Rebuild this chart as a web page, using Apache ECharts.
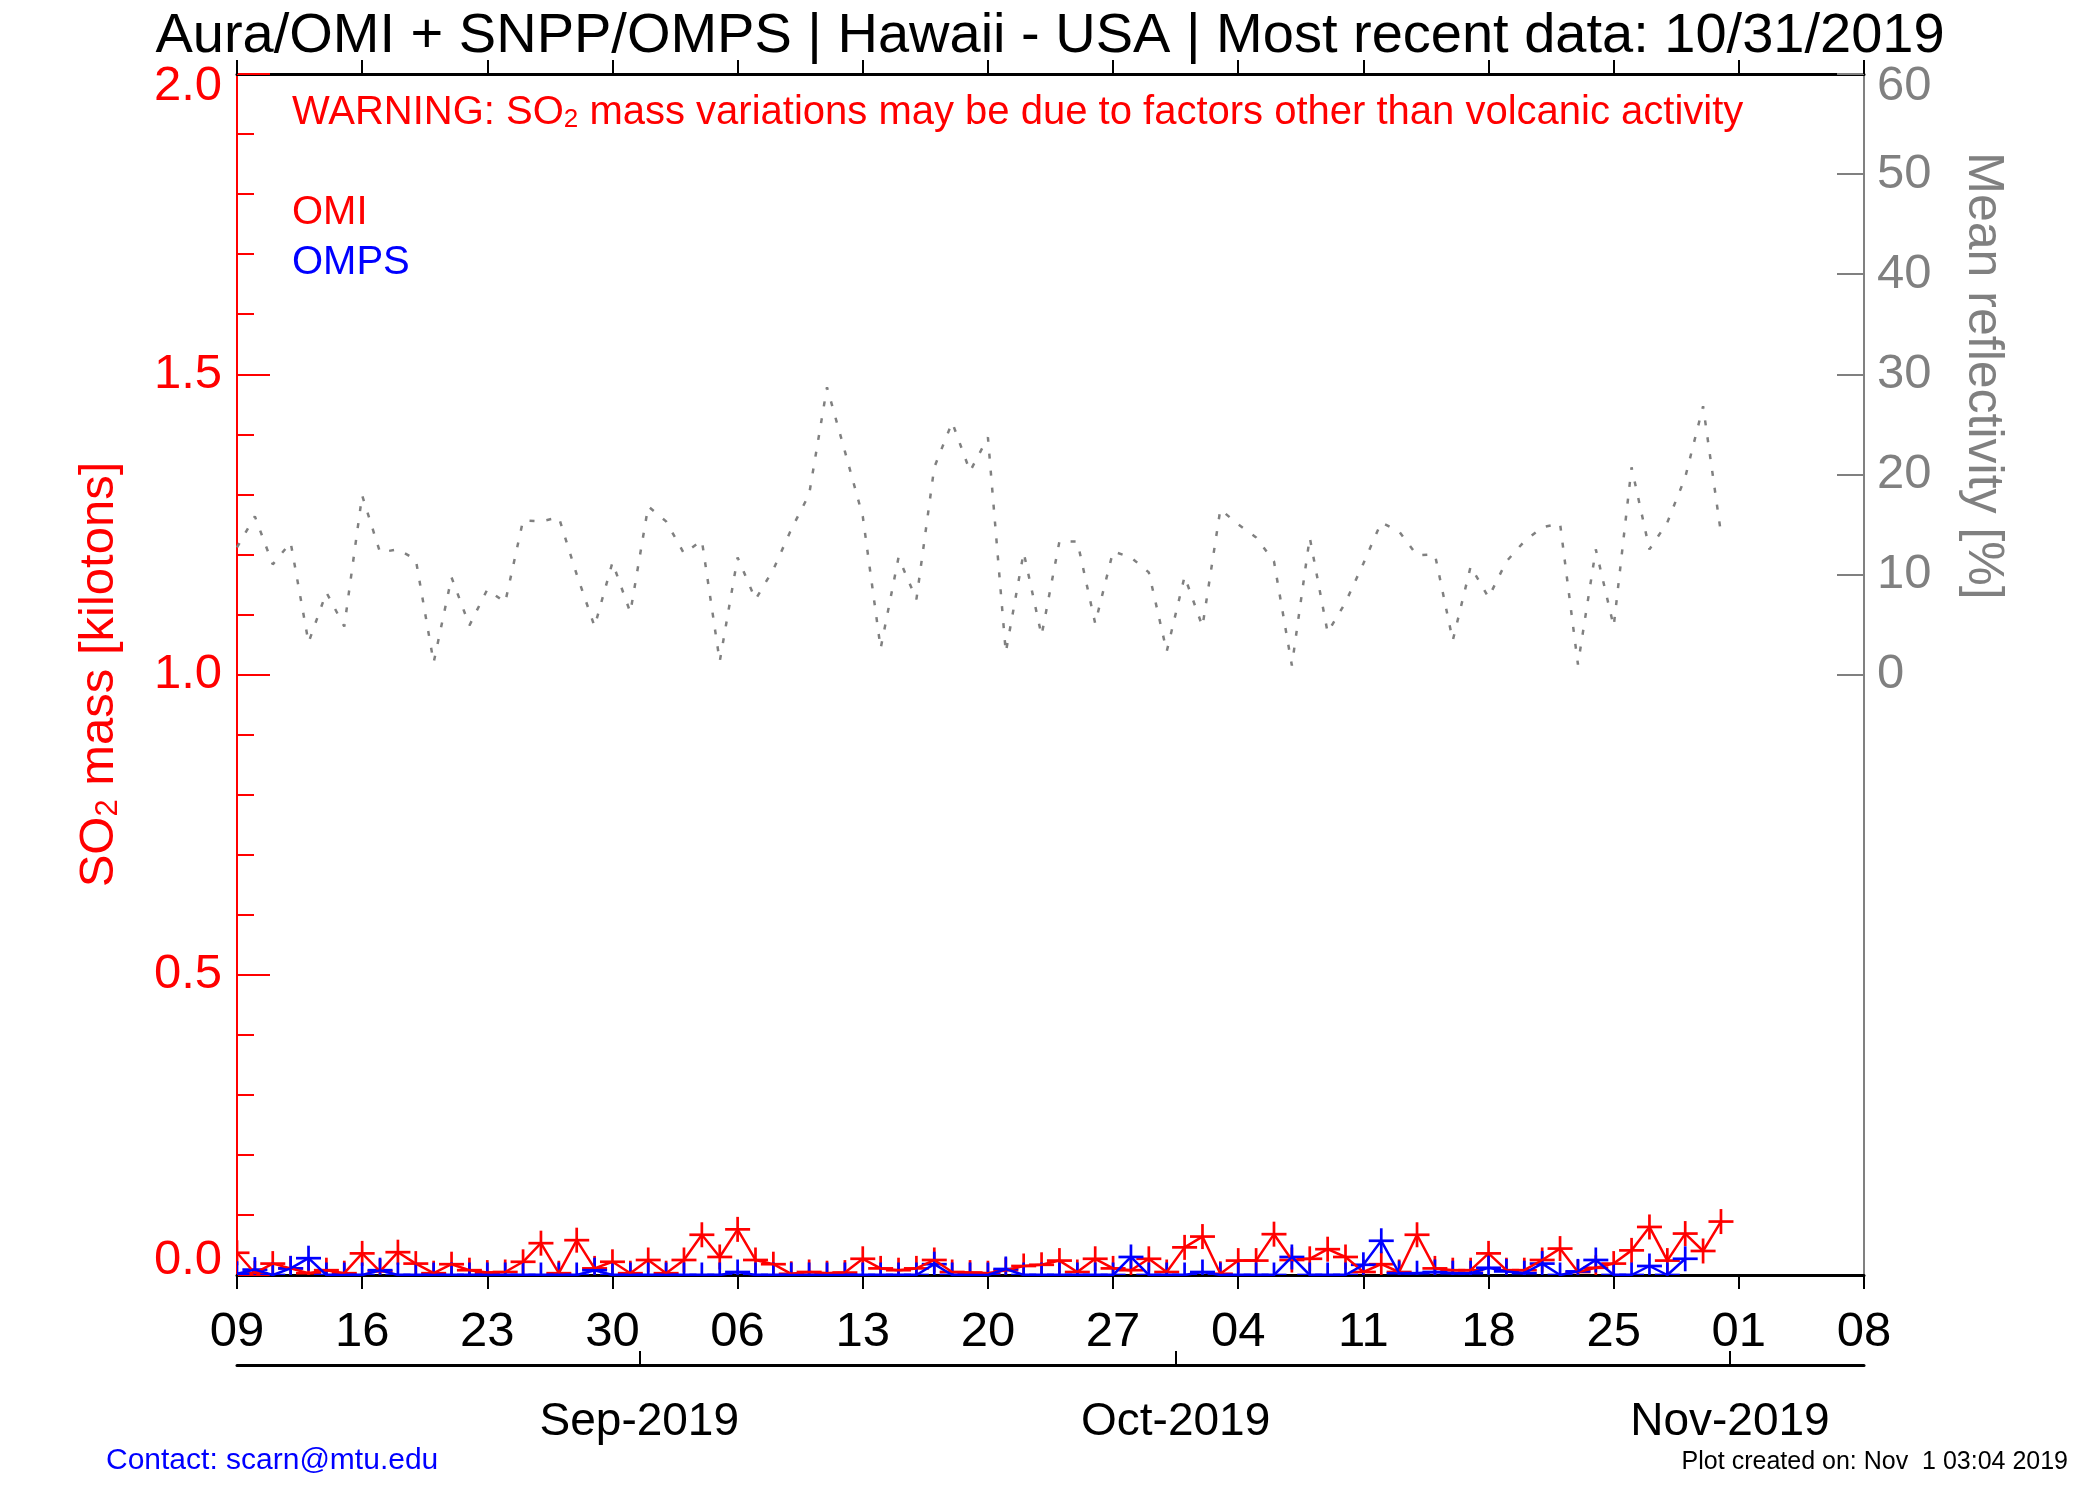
<!DOCTYPE html>
<html>
<head>
<meta charset="utf-8">
<title>Aura/OMI + SNPP/OMPS | Hawaii - USA</title>
<script src="https://cdn.jsdelivr.net/npm/echarts@6/dist/echarts.min.js"></script>
<style>
  html, body { margin: 0; padding: 0; background: #fff; }
  #chart { width: 2100px; height: 1500px; }
</style>
</head>
<body>
<div id="chart"></div>
<script>
// x = day number, day 0 = 09 Aug 2019 (one value per day)
const weekLabels = ['09', '16', '23', '30', '06', '13', '20', '27', '04', '11', '18', '25', '01', '08'];
const monthTickDays = [22.5, 52.5, 83.5];
const monthLabels = ['Sep-2019', 'Oct-2019', 'Nov-2019'];
const reflTicks = [0, 10, 20, 30, 40, 50, 60];

// SO2 mass [kt], OMI: 09 Aug .. 31 Oct
const omiMass = [
  0.037, 0.003, 0.019, 0.011, 0.003, 0.008, 0.003, 0.036, 0.006, 0.038,
  0.019, 0.003, 0.018, 0.008, 0.004, 0.005, 0.022, 0.053, 0.003, 0.058,
  0.011, 0.022, 0.003, 0.025, 0.003, 0.025, 0.067, 0.030, 0.076, 0.025,
  0.018, 0.002, 0.005, 0.003, 0.004, 0.027, 0.011, 0.008, 0.011, 0.025,
  0.005, 0.004, 0.003, 0.008, 0.015, 0.017, 0.024, 0.005, 0.027, 0.011,
  0.008, 0.027, 0.005, 0.046, 0.064, 0.002, 0.024, 0.024, 0.068, 0.025,
  0.027, 0.043, 0.030, 0.005, 0.018, 0.005, 0.067, 0.011, 0.008, 0.008,
  0.036, 0.008, 0.008, 0.025, 0.044, 0.005, 0.012, 0.019, 0.041, 0.080,
  0.024, 0.069, 0.040, 0.089
];

// SO2 mass [kt], OMPS: 09 Aug .. 29 Oct
const ompsMass = [
  0.002, 0.009, 0, 0.011, 0.028, 0, 0, 0, 0.008, 0,
  0, 0, 0, 0, 0, 0, 0, 0, 0, 0,
  0.008, 0, 0, 0, 0, 0, 0, 0, 0.005, 0,
  0, 0, 0, 0, 0, 0, 0, 0, 0, 0.018,
  0, 0, 0, 0.010, 0, 0, 0, 0, 0, 0,
  0.030, 0, 0, 0, 0.005, 0, 0, 0, 0, 0.030,
  0, 0, 0, 0.017, 0.057, 0.003, 0.003, 0.005, 0.003, 0.003,
  0.012, 0.006, 0.003, 0.019, 0, 0.006, 0.025, 0, 0, 0.015,
  0, 0.027
];

// mean reflectivity [%]: 09 Aug .. 31 Oct
const meanReflectivity = [
  12.7, 15.8, 11.0, 13.2, 3.2, 8.2, 4.8, 17.9, 12.2, 12.5,
  11.5, 1.2, 9.7, 4.9, 8.5, 7.2, 15.4, 15.3, 15.7, 10.0,
  4.8, 11.2, 6.2, 16.8, 15.3, 12.1, 13.4, 1.3, 11.7, 7.5,
  10.5, 14.5, 18.0, 28.7, 22.3, 15.8, 2.6, 11.7, 7.5, 20.7,
  25.2, 20.3, 23.7, 2.2, 12.2, 3.9, 13.3, 13.3, 5.1, 12.3,
  11.7, 10.2, 2.3, 9.8, 4.8, 16.5, 15.0, 13.7, 11.3, 0.9,
  13.7, 4.2, 7.2, 11.1, 15.2, 14.3, 11.9, 12.0, 3.4, 10.8,
  7.7, 11.3, 13.3, 14.7, 15.1, 1.0, 12.5, 4.8, 20.7, 12.5,
  15.2, 19.7, 26.8, 14.1
];

const FONT = '"Liberation Sans", Arial, Helvetica, sans-serif';
const RED = '#ff0000';
const BLUE = '#0000ff';
const GRAY = '#808080';

const toPairs = arr => arr.map((v, i) => [i, v]);

// "+" marker drawn per point, clipped to the plot area
function plusMarker(color) {
  return function (params, api) {
    const p = api.coord([api.value(0), api.value(1)]);
    const h = 12.5;
    const st = { stroke: color, lineWidth: 2.7 };
    return {
      type: 'group',
      children: [
        { type: 'line', shape: { x1: p[0] - h, y1: p[1], x2: p[0] + h, y2: p[1] }, style: st },
        { type: 'line', shape: { x1: p[0], y1: p[1] - h, x2: p[0], y2: p[1] + h }, style: st }
      ]
    };
  };
}

const chart = echarts.init(document.getElementById('chart'));

const dayAxisBase = {
  type: 'value',
  min: 0,
  max: 91,
  interval: 7,
  splitLine: { show: false },
  axisLine: { onZero: false, lineStyle: { color: '#000', width: 3 } },
  axisTick: { length: 14, lineStyle: { color: '#000', width: 2 } }
};

const option = {
  animation: false,
  backgroundColor: '#fff',
  textStyle: { fontFamily: FONT },
  title: {
    text: 'Aura/OMI + SNPP/OMPS | Hawaii - USA | Most recent data: 10/31/2019',
    left: 'center',
    top: 4,
    textStyle: { fontSize: 56, fontWeight: 'normal', color: '#000', fontFamily: FONT }
  },
  grid: { left: 237, right: 236, top: 74, bottom: 225 },
  xAxis: [
    Object.assign({}, dayAxisBase, {
      position: 'bottom',
      axisLabel: {
        color: '#000', fontSize: 49, fontFamily: FONT, margin: 33,
        showMinLabel: true, showMaxLabel: true,
        formatter: v => weekLabels[Math.round(v / 7)]
      }
    }),
    Object.assign({}, dayAxisBase, {
      position: 'top',
      axisLabel: { show: false }
    }),
    Object.assign({}, dayAxisBase, {
      position: 'bottom',
      offset: 90,
      axisTick: {
        inside: true, length: 14, customValues: monthTickDays,
        lineStyle: { color: '#000', width: 2 }
      },
      axisLabel: {
        color: '#000', fontSize: 46, fontFamily: FONT, margin: 34,
        customValues: monthTickDays,
        formatter: v => monthLabels[monthTickDays.indexOf(v)]
      }
    })
  ],
  yAxis: [
    {
      type: 'value',
      position: 'left',
      min: 0,
      max: 2,
      interval: 0.5,
      splitLine: { show: false },
      axisLine: { show: true, onZero: false, lineStyle: { color: RED, width: 2 } },
      axisTick: { show: true, inside: true, length: 33, lineStyle: { color: RED, width: 2 } },
      minorTick: { show: true, splitNumber: 5, length: 17, lineStyle: { color: RED, width: 2 } },
      axisLabel: {
        color: RED, fontSize: 49, fontFamily: FONT, margin: 15,
        formatter: v => v === 2 ? '{hi|2.0}' : (v === 0 ? '{lo|0.0}' : v.toFixed(1)),
        rich: {
          hi: { color: RED, fontSize: 49, fontFamily: FONT, padding: [24, 0, 0, 0] },
          lo: { color: RED, fontSize: 49, fontFamily: FONT, padding: [0, 0, 30, 0] }
        }
      },
      name: '{a|SO}{s|2}{a| mass [kilotons]}',
      nameLocation: 'middle',
      nameRotate: 90,
      nameGap: 113,
      nameTextStyle: {
        color: RED, fontSize: 49, fontFamily: FONT,
        rich: {
          a: { color: RED, fontSize: 49, fontFamily: FONT, verticalAlign: 'top', lineHeight: 49 },
          s: { color: RED, fontSize: 31, fontFamily: FONT, verticalAlign: 'bottom', lineHeight: 31, padding: [25, 0, 0, 0] }
        }
      }
    },
    {
      type: 'value',
      position: 'right',
      min: -60,
      max: 60,
      interval: 10,
      splitLine: { show: false },
      axisLine: { show: true, onZero: false, lineStyle: { color: GRAY, width: 2 } },
      axisTick: {
        show: true, inside: true, length: 27,
        customValues: reflTicks,
        lineStyle: { color: GRAY, width: 2 }
      },
      axisLabel: {
        color: GRAY, fontSize: 49, fontFamily: FONT, margin: 13,
        customValues: reflTicks,
        formatter: v => v === 60 ? '{hi|60}' : String(v),
        rich: {
          hi: { color: GRAY, fontSize: 49, fontFamily: FONT, padding: [24, 0, 0, 0] }
        }
      }
    }
  ],
  graphic: [
    {
      type: 'text', x: 292, y: 93, z: 10,
      style: {
        text: '{w|WARNING: SO}{s|2}{w| mass variations may be due to factors other than volcanic activity}',
        align: 'left', verticalAlign: 'top',
        rich: {
          w: { fill: RED, fontSize: 40, fontFamily: FONT, verticalAlign: 'top', lineHeight: 40 },
          s: { fill: RED, fontSize: 26, fontFamily: FONT, verticalAlign: 'bottom', lineHeight: 26, padding: [20, 0, 0, 0] }
        }
      }
    },
    {
      type: 'text', x: 292, y: 213, z: 10,
      style: { text: 'OMI', fill: RED, fontSize: 40, fontFamily: FONT, align: 'left', verticalAlign: 'middle' }
    },
    {
      type: 'text', x: 292, y: 263, z: 10,
      style: { text: 'OMPS', fill: BLUE, fontSize: 40, fontFamily: FONT, align: 'left', verticalAlign: 'middle' }
    },
    {
      type: 'text', x: 1983, y: 376, rotation: -Math.PI / 2, z: 10,
      style: { text: 'Mean reflectivity [%]', fill: GRAY, fontSize: 50, fontFamily: FONT, align: 'center', verticalAlign: 'middle' }
    },
    {
      type: 'text', x: 106, y: 1461, z: 10,
      style: { text: 'Contact: scarn@mtu.edu', fill: BLUE, fontSize: 30, fontFamily: FONT, align: 'left', verticalAlign: 'middle' }
    },
    {
      type: 'text', x: 2068, y: 1462, z: 10,
      style: { text: 'Plot created on: Nov  1 03:04 2019', fill: '#000', fontSize: 25, fontFamily: FONT, align: 'right', verticalAlign: 'middle' }
    }
  ],
  series: [
    {
      name: 'Mean reflectivity',
      type: 'line',
      xAxisIndex: 0,
      yAxisIndex: 1,
      data: toPairs(meanReflectivity),
      symbol: 'none',
      lineStyle: { color: GRAY, width: 2.5, type: [5, 12] }
    },
    {
      name: 'OMI',
      type: 'line',
      xAxisIndex: 0,
      yAxisIndex: 0,
      data: toPairs(omiMass),
      symbol: 'none',
      lineStyle: { color: RED, width: 2.5 }
    },
    {
      name: 'OMI marks',
      type: 'custom',
      xAxisIndex: 0,
      yAxisIndex: 0,
      clip: true,
      data: toPairs(omiMass),
      encode: { x: 0, y: 1 },
      renderItem: plusMarker(RED)
    },
    {
      name: 'OMPS',
      type: 'line',
      xAxisIndex: 0,
      yAxisIndex: 0,
      data: toPairs(ompsMass),
      symbol: 'none',
      lineStyle: { color: BLUE, width: 2.5 }
    },
    {
      name: 'OMPS marks',
      type: 'custom',
      xAxisIndex: 0,
      yAxisIndex: 0,
      clip: true,
      data: toPairs(ompsMass),
      encode: { x: 0, y: 1 },
      renderItem: plusMarker(BLUE)
    }
  ]
};

chart.setOption(option);
</script>
</body>
</html>
